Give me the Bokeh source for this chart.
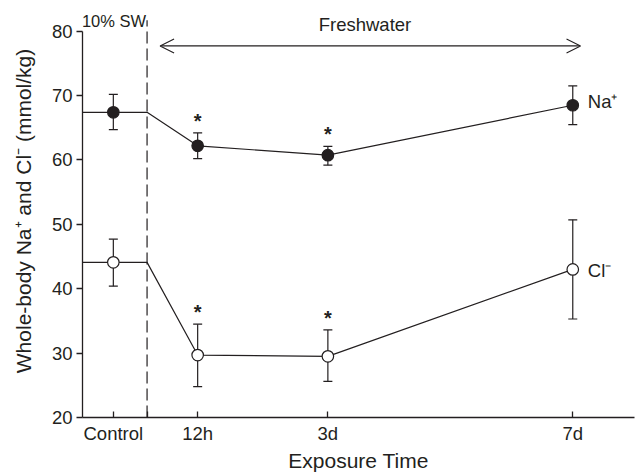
from bokeh.plotting import figure
from bokeh.models import (ColumnDataSource, Whisker, TeeHead, Arrow, OpenHead, Label,
                          FixedTicker, Range1d)
from bokeh.core.properties import value
from bokeh.embed import file_html
from bokeh.resources import INLINE

# ---- data ----
categories = ["Control", "12h", "3d", "7d"]
cat_pos = [1.0, 3.5, 7.36, 14.62]          # uneven spacing of the original axis
boundary_pos = 2.0                          # 10% SW / Freshwater transition

na_mean = [67.4, 62.2, 60.75, 68.5]
na_upper = [70.2, 64.2, 62.1, 71.5]
na_lower = [64.7, 60.2, 59.2, 65.5]

cl_mean = [44.1, 29.7, 29.5, 43.0]
cl_upper = [47.7, 34.5, 33.6, 50.7]
cl_lower = [40.4, 24.8, 25.6, 35.3]

na_signif = [False, True, True, False]
cl_signif = [False, True, True, False]

y_ticks = [20, 30, 40, 50, 60, 70, 80]
series_names = ["Na⁺", "Cl⁻"]

FONT = "Liberation Sans"
INK = "#231f20"

x_start, x_end = 0.086, 16.45
p = figure(width=640, height=474, output_backend="svg", toolbar_location=None,
           x_range=Range1d(x_start, x_end), y_range=Range1d(20, 84.15),
           min_border_left=82, min_border_right=6, min_border_top=4, min_border_bottom=57)
p.outline_line_color = None
p.xgrid.visible = False
p.ygrid.visible = False
p.background_fill_color = "white"

# axes
ya = p.yaxis[0]
ya.ticker = FixedTicker(ticks=y_ticks)
ya.bounds = (20, 80)
ya.major_tick_in = 0
ya.major_tick_out = 6
ya.minor_tick_line_color = None
ya.axis_line_width = 1.3
ya.major_tick_line_width = 1.3
ya.axis_line_color = INK
ya.major_tick_line_color = INK
ya.major_label_text_font = FONT
ya.major_label_text_font_size = "18.5px"
ya.major_label_text_color = INK
ya.major_label_standoff = 4
ya.axis_label = "Whole-body Na⁺ and Cl⁻ (mmol/kg)"
ya.axis_label_text_font = FONT
ya.axis_label_text_font_size = "21px"
ya.axis_label_text_font_style = "normal"
ya.axis_label_text_color = INK
ya.axis_label_standoff = 14

xa = p.xaxis[0]
xa.ticker = FixedTicker(ticks=cat_pos + [boundary_pos])
overrides = {p_: c for p_, c in zip(cat_pos, categories)}
overrides[boundary_pos] = ""
xa.major_label_overrides = overrides
xa.major_tick_in = 6
xa.major_tick_out = 0
xa.minor_tick_line_color = None
xa.axis_line_width = 1.3
xa.major_tick_line_width = 1.3
xa.axis_line_color = INK
xa.major_tick_line_color = INK
xa.major_label_text_font = FONT
xa.major_label_text_font_size = "18.5px"
xa.major_label_text_color = INK
xa.major_label_standoff = 5
xa.axis_label = "Exposure Time"
xa.axis_label_text_font = FONT
xa.axis_label_text_font_size = "21px"
xa.axis_label_text_font_style = "normal"
xa.axis_label_text_color = INK
xa.axis_label_standoff = 2

# dashed boundary
p.segment(x0=[boundary_pos], y0=[20], x1=[boundary_pos], y1=[81.7],
          line_color=INK, line_width=1.2, line_dash="12 5")

# connecting lines (control level held from the axis until the boundary)
for mean in (na_mean, cl_mean):
    xs = [x_start, boundary_pos] + cat_pos[1:]
    ys = [mean[0], mean[0]] + mean[1:]
    p.line(xs, ys, line_color=INK, line_width=1.2)

# error bars
for upper, lower in ((na_upper, na_lower), (cl_upper, cl_lower)):
    src = ColumnDataSource(dict(x=cat_pos, upper=upper, lower=lower))
    w = Whisker(source=src, base="x", upper="upper", lower="lower", dimension="height",
                line_color=INK, line_width=1.2,
                upper_head=TeeHead(size=9, line_color=INK, line_width=1.2),
                lower_head=TeeHead(size=9, line_color=INK, line_width=1.2))
    p.add_layout(w)

# markers
p.scatter(cat_pos, na_mean, size=11.5, marker="circle", fill_color=INK, line_color=INK, line_width=1.2)
p.scatter(cat_pos, cl_mean, size=11.5, marker="circle", fill_color="white", line_color=INK, line_width=1.2)

# significance stars
for upper, sig in ((na_upper, na_signif), (cl_upper, cl_signif)):
    sx = [x for x, s in zip(cat_pos, sig) if s]
    sy = [u for u, s in zip(upper, sig) if s]
    p.text(x=sx, y=sy, text=["*"] * len(sx), text_align="center", text_baseline="alphabetic",
           y_offset=-12, text_font=value(FONT), text_font_size="20px", text_font_style="bold",
           text_color=INK)

# series labels
for name, mean, dy in zip(series_names, (na_mean, cl_mean), (4, -1)):
    p.add_layout(Label(x=cat_pos[-1], y=mean[-1], text=name, x_offset=15, y_offset=dy,
                       text_baseline="middle", text_align="left", text_font=FONT,
                       text_font_size="18.5px", text_color=INK))

# period annotations
p.add_layout(Label(x=boundary_pos, y=81.6, text="10% SW", text_align="right",
                   text_baseline="alphabetic", text_font=FONT, text_font_size="16.5px",
                   text_color=INK, x_offset=-1))
p.add_layout(Label(x=8.46, y=81.1, text="Freshwater", text_align="center",
                   text_baseline="alphabetic", text_font=FONT, text_font_size="18.5px",
                   text_color=INK))
p.add_layout(Arrow(x_start=2.386, x_end=14.85, y_start=77.72, y_end=77.72,
                   line_color=INK, line_width=1.1,
                   start=OpenHead(size=14, line_color=INK, line_width=1.1),
                   end=OpenHead(size=14, line_color=INK, line_width=1.1)))

open("out.html", "w").write(file_html(p, INLINE))
